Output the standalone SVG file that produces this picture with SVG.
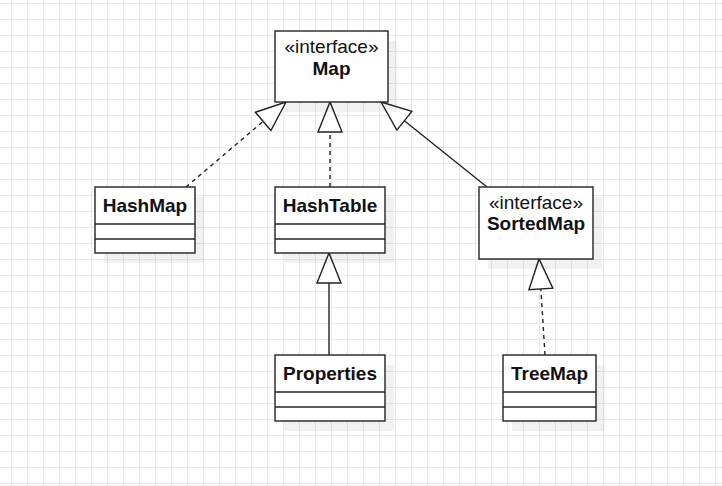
<svg xmlns="http://www.w3.org/2000/svg" width="722" height="486" viewBox="0 0 722 486">
<style>
.box{fill:#fff;stroke:#222;stroke-width:1.4}
.shadow{fill:#000;fill-opacity:0.055}
.div{stroke:#222;stroke-width:1.4}
.edge{fill:none;stroke:#222;stroke-width:1.4}
.dash{stroke-dasharray:4 4}
.t{font-family:"Liberation Sans",Arial,sans-serif;font-size:19px;fill:#111;text-anchor:middle}
.b{font-weight:bold}
</style>
<defs>
<pattern id="grid" width="16" height="16" x="11" y="3" patternUnits="userSpaceOnUse">
<path d="M0,0.5H16M0.5,0V16" fill="none" stroke="#e8e8e8" stroke-width="1"/>
</pattern>
<marker id="tri" markerUnits="userSpaceOnUse" markerWidth="34" markerHeight="28" refX="32" refY="14" orient="auto" viewBox="0 0 34 28">
<path d="M2,2 L32,14 L2,26 Z" fill="#fff" stroke="#222" stroke-width="1.4"/>
</marker>
</defs>
<rect width="722" height="486" fill="#fff"/>
<rect width="722" height="486" fill="url(#grid)"/>

<g id="connectors">
<path class="edge dash" d="M186,187 L286,102" marker-end="url(#tri)"/>
<path class="edge dash" d="M330,187 L330,102" marker-end="url(#tri)"/>
<path class="edge" d="M487,187 L381,102" marker-end="url(#tri)"/>
<path class="edge" d="M329,355 L329,253" marker-end="url(#tri)"/>
<path class="edge dash" d="M545,355 L539,259" marker-end="url(#tri)"/>
</g>

<g id="Map">
<rect class="shadow" x="284" y="41" width="113" height="71"/>
<rect class="box" x="275" y="31" width="113" height="71"/>
<text class="t" x="331.5" y="53">«interface»</text>
<text class="t b" x="331.5" y="75">Map</text>
</g>

<g id="HashMap">
<rect class="shadow" x="104" y="197" width="100" height="66"/>
<rect class="box" x="95" y="187" width="100" height="66"/>
<line class="div" x1="95" y1="224" x2="195" y2="224"/>
<line class="div" x1="95" y1="239" x2="195" y2="239"/>
<text class="t b" x="145" y="212">HashMap</text>
</g>

<g id="HashTable">
<rect class="shadow" x="284" y="197" width="110" height="66"/>
<rect class="box" x="275" y="187" width="110" height="66"/>
<line class="div" x1="275" y1="224" x2="385" y2="224"/>
<line class="div" x1="275" y1="239" x2="385" y2="239"/>
<text class="t b" x="330" y="212">HashTable</text>
</g>

<g id="SortedMap">
<rect class="shadow" x="488" y="197" width="114" height="72"/>
<rect class="box" x="479" y="187" width="114" height="72"/>
<text class="t" x="536" y="209">«interface»</text>
<text class="t b" x="536" y="230">SortedMap</text>
</g>

<g id="Properties">
<rect class="shadow" x="284" y="365" width="110" height="66"/>
<rect class="box" x="275" y="355" width="110" height="66"/>
<line class="div" x1="275" y1="392" x2="385" y2="392"/>
<line class="div" x1="275" y1="407" x2="385" y2="407"/>
<text class="t b" x="330" y="380">Properties</text>
</g>

<g id="TreeMap">
<rect class="shadow" x="512" y="365" width="93" height="66"/>
<rect class="box" x="503" y="355" width="93" height="66"/>
<line class="div" x1="503" y1="392" x2="596" y2="392"/>
<line class="div" x1="503" y1="407" x2="596" y2="407"/>
<text class="t b" x="549.5" y="380">TreeMap</text>
</g>
</svg>
